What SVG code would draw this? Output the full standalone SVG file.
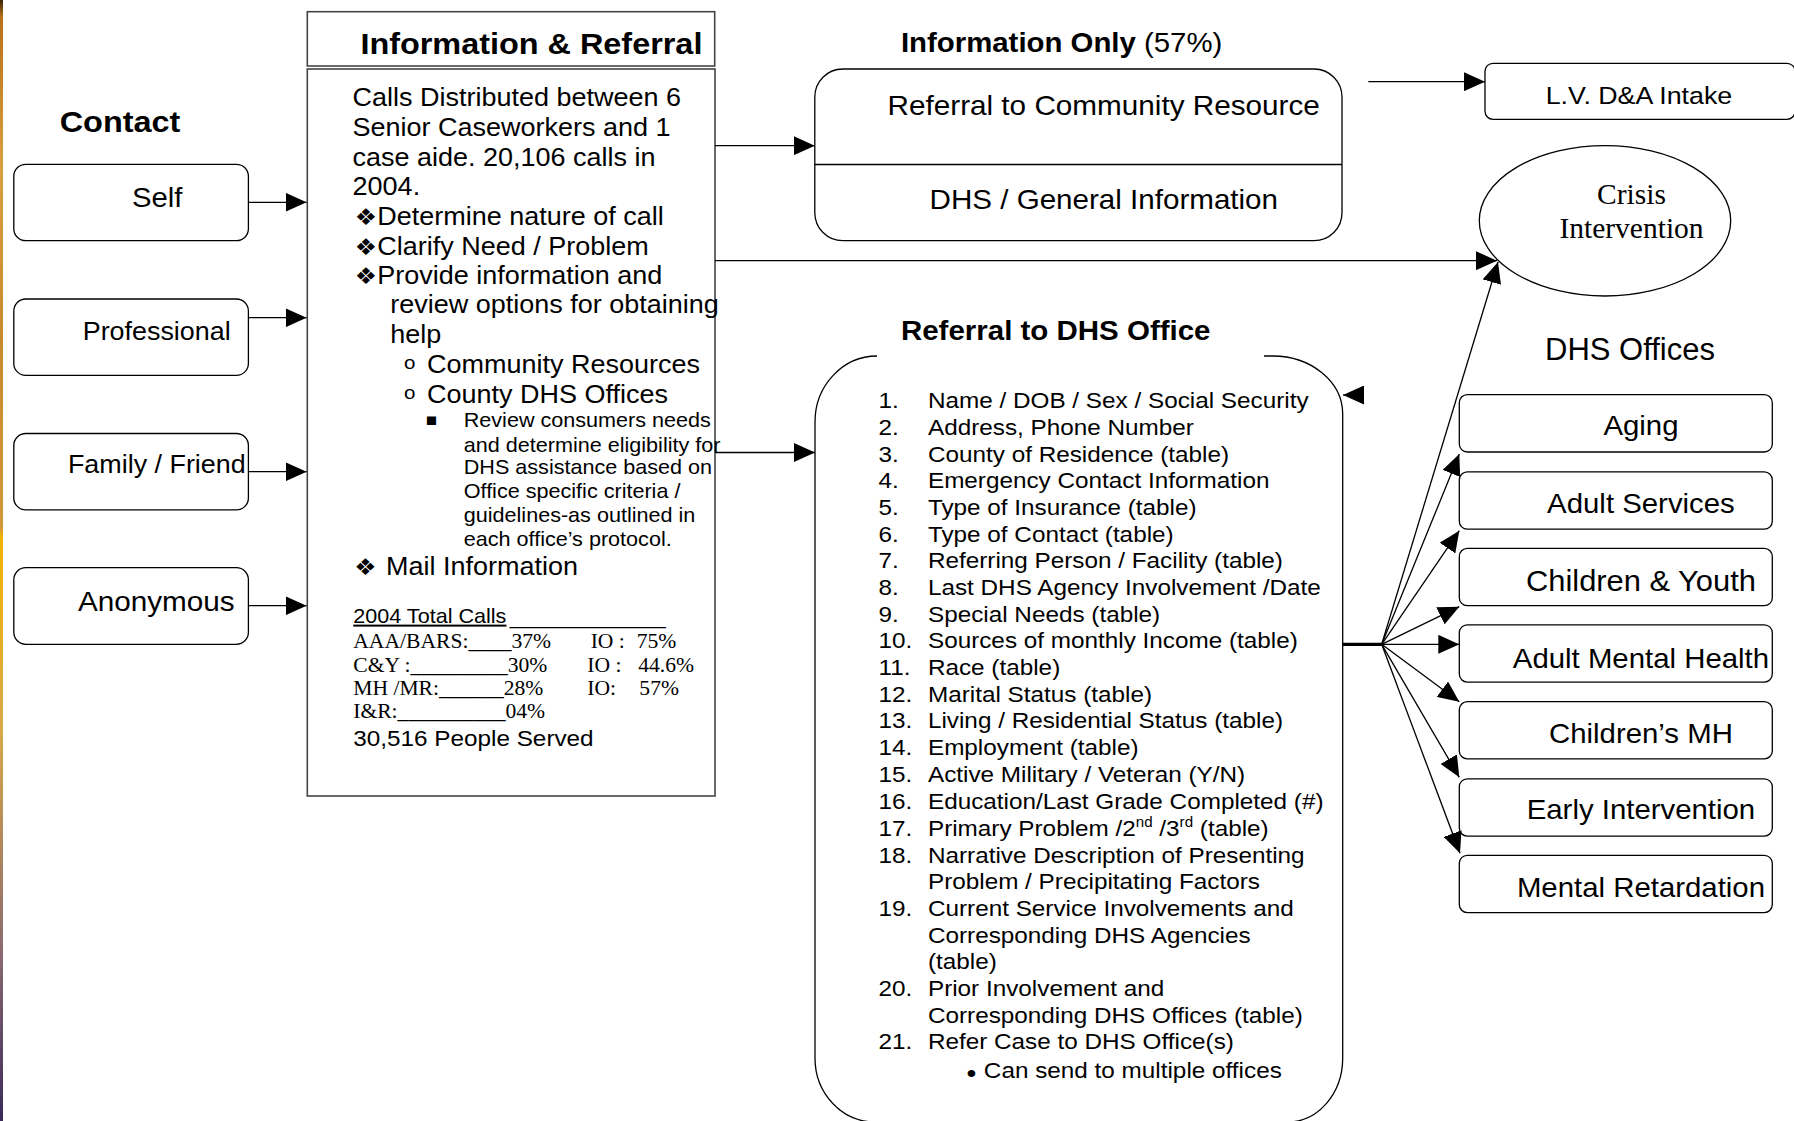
<svg xmlns="http://www.w3.org/2000/svg" width="1794" height="1121" viewBox="0 0 1794 1121">
<defs>
<style>
.box{fill:#fff;stroke:#000;stroke-width:1.3}
.ir{fill:#fff;stroke:#444;stroke-width:1.6}
.c{fill:none;stroke:#000;stroke-width:1.3}
.thick{fill:none;stroke:#000;stroke-width:3.2}
.t{font-family:"Liberation Sans",Arial,Helvetica,sans-serif;fill:#000;transform:scale(1.08,1)}
.tm{font-family:"Liberation Serif","Times New Roman",serif;fill:#000;transform:scale(1.08,1);font-size:20px}
.tr{font-family:"Liberation Serif","Times New Roman",serif;fill:#000}
.sym{font-family:"DejaVu Sans",sans-serif;fill:#000;transform:scale(1.08,1)}
.dia{font-size:23px}
.b{font-weight:bold}
.m{text-anchor:middle}
.body{font-size:25px}
.small{font-size:20px}
.list{font-size:22.5px}
.off{font-size:27.2px}
</style>
<marker id="ah" markerWidth="21" markerHeight="19" refX="21" refY="9.5" orient="auto" markerUnits="userSpaceOnUse">
<path d="M0,0 L21,9.5 L0,19 z" fill="#000"/>
</marker>
<linearGradient id="strip" x1="0" y1="0" x2="0" y2="1">
<stop offset="0" stop-color="#3b2508"/>
<stop offset="0.015" stop-color="#b87018"/>
<stop offset="0.15" stop-color="#d8a040"/>
<stop offset="0.3" stop-color="#c88a2a"/>
<stop offset="0.47" stop-color="#d09838"/>
<stop offset="0.48" stop-color="#f2b400"/>
<stop offset="0.65" stop-color="#d8a848"/>
<stop offset="0.85" stop-color="#8a6a70"/>
<stop offset="1" stop-color="#3a2a5a"/>
</linearGradient>
</defs>
<rect x="0" y="0" width="1794" height="1121" fill="#fff"/>
<rect x="0" y="0" width="3" height="1121" fill="url(#strip)"/>

<g id="contact-title">
<text class="t b" x="55.3" y="131.7" font-size="30">Contact</text>
</g>

<g id="self">
<rect class="box" x="13.8" y="164.3" width="234.6" height="76.4" rx="12"/>
<text class="t m" x="145.6" y="206.7" font-size="27.1">Self</text>
</g>
<g id="professional">
<rect class="box" x="13.8" y="299" width="234.6" height="76.4" rx="12"/>
<text class="t m" x="145.1" y="340" font-size="24.9">Professional</text>
</g>
<g id="family">
<rect class="box" x="13.8" y="433.5" width="234.6" height="76.4" rx="12"/>
<text class="t m" x="145.2" y="473.3" font-size="24.9">Family / Friend</text>
</g>
<g id="anonymous">
<rect class="box" x="13.8" y="567.7" width="234.6" height="76.6" rx="12"/>
<text class="t m" x="144.7" y="610.7" font-size="27.5">Anonymous</text>
</g>

<g id="info-referral">
<rect class="ir" x="307.3" y="11.7" width="407.4" height="54.3"/>
<text class="t b" x="333.7" y="54" font-size="30">Information &amp; Referral</text>
<rect class="ir" x="307.3" y="69" width="407.7" height="727"/>
<g class="body">
<text class="t" x="326.5" y="105.7">Calls Distributed between 6</text>
<text class="t" x="326.5" y="135.7">Senior Caseworkers and 1</text>
<text class="t" x="326.5" y="165.7">case aide. 20,106 calls in</text>
<text class="t" x="326.5" y="195">2004.</text>
<text class="sym dia" x="328.5" y="225.5">❖</text>
<text class="t" x="349.4" y="225">Determine nature of call</text>
<text class="sym dia" x="328.5" y="255.5">❖</text>
<text class="t" x="349.4" y="255">Clarify Need / Problem</text>
<text class="sym dia" x="328.5" y="284.5">❖</text>
<text class="t" x="349.4" y="284">Provide information and</text>
<text class="t" x="361.4" y="313.3">review options for obtaining</text>
<text class="t" x="361.4" y="342.7">help</text>
<text class="t" x="374.1" y="369.5" font-size="19">o</text>
<text class="t" x="395.4" y="372.7">Community Resources</text>
<text class="t" x="374.1" y="399.5" font-size="19">o</text>
<text class="t" x="395.4" y="402.7">County DHS Offices</text>
</g>
<g class="small">
<text class="sym" x="393.8" y="425.5" font-size="17">▪</text>
<text class="t" x="429.4" y="427.3">Review consumers needs</text>
<text class="t" x="429.4" y="451.7">and determine eligibility for</text>
<text class="t" x="429.4" y="474">DHS assistance based on</text>
<text class="t" x="429.4" y="497.7">Office specific criteria /</text>
<text class="t" x="429.4" y="521.7">guidelines-as outlined in</text>
<text class="t" x="429.4" y="545.7">each office’s protocol.</text>
</g>
<text class="sym dia" x="328" y="575.5">❖</text>
<text class="t body" x="357.4" y="575">Mail Information</text>
<text class="t small" x="327.1" y="622.7" text-decoration="underline">2004 Total Calls</text>
<text class="t small" x="472" y="624">_____________</text>
<text class="tm" x="327.1" y="648.3">AAA/BARS:____37%</text>
<text class="tm" x="546.9" y="648.3">IO :</text>
<text class="tm" x="589.5" y="648.3">75%</text>
<text class="tm" x="327.1" y="671.7">C&amp;Y :_________30%</text>
<text class="tm" x="543.8" y="671.7">IO :</text>
<text class="tm" x="591" y="671.7">44.6%</text>
<text class="tm" x="327.1" y="695">MH /MR:______28%</text>
<text class="tm" x="543.8" y="695">IO:</text>
<text class="tm" x="592" y="695">57%</text>
<text class="tm" x="327.1" y="718.3">I&amp;R:__________04%</text>
<text class="t" x="327.1" y="746" font-size="22.5">30,516 People Served</text>
</g>

<g id="information-only">
<text class="t b" x="834.2" y="52.3" font-size="27.2">Information Only <tspan font-weight="normal">(57%)</tspan></text>
<rect class="box" x="814.8" y="69" width="527.2" height="171.7" rx="28"/>
<line class="c" x1="814.8" y1="164.5" x2="1342" y2="164.5"/>
<text class="t" x="821.8" y="115" font-size="27.5">Referral to Community Resource</text>
<text class="t" x="860.7" y="209" font-size="27.4">DHS / General Information</text>
</g>

<g id="lv-intake">
<rect class="box" x="1485" y="63.3" width="310" height="56" rx="8"/>
<text class="t" x="1431.2" y="104" font-size="24.8">L.V. D&amp;A Intake</text>
</g>

<g id="crisis">
<ellipse class="box" cx="1605" cy="220.8" rx="125.7" ry="75.2"/>
<text class="tr m" x="1631.5" y="204" font-size="29.5">Crisis</text>
<text class="tr m" x="1631.5" y="238" font-size="29.5">Intervention</text>
</g>

<g id="referral-dhs">
<text class="t b" x="834.2" y="340" font-size="27.3">Referral to DHS Office</text>
<path class="c" d="M877 356 A62 66 0 0 0 815 422 V1058 A60 64 0 0 0 875 1122 H1288 A55 64 0 0 0 1342.7 1058 V414 A70 58 0 0 0 1272 356 H1264"/>
<g class="list">
<text class="t" x="813.5" y="408.3">1.</text><text class="t" x="859.2" y="408.3">Name / DOB / Sex / Social Security</text>
<text class="t" x="813.5" y="435">2.</text><text class="t" x="859.2" y="435">Address, Phone Number</text>
<text class="t" x="813.5" y="461.7">3.</text><text class="t" x="859.2" y="461.7">County of Residence (table)</text>
<text class="t" x="813.5" y="488.3">4.</text><text class="t" x="859.2" y="488.3">Emergency Contact Information</text>
<text class="t" x="813.5" y="515">5.</text><text class="t" x="859.2" y="515">Type of Insurance (table)</text>
<text class="t" x="813.5" y="541.7">6.</text><text class="t" x="859.2" y="541.7">Type of Contact (table)</text>
<text class="t" x="813.5" y="568.3">7.</text><text class="t" x="859.2" y="568.3">Referring Person / Facility (table)</text>
<text class="t" x="813.5" y="595">8.</text><text class="t" x="859.2" y="595">Last DHS Agency Involvement /Date</text>
<text class="t" x="813.5" y="621.7">9.</text><text class="t" x="859.2" y="621.7">Special Needs (table)</text>
<text class="t" x="813.5" y="648.3">10.</text><text class="t" x="859.2" y="648.3">Sources of monthly Income (table)</text>
<text class="t" x="813.5" y="675">11.</text><text class="t" x="859.2" y="675">Race (table)</text>
<text class="t" x="813.5" y="701.7">12.</text><text class="t" x="859.2" y="701.7">Marital Status (table)</text>
<text class="t" x="813.5" y="728.3">13.</text><text class="t" x="859.2" y="728.3">Living / Residential Status (table)</text>
<text class="t" x="813.5" y="755">14.</text><text class="t" x="859.2" y="755">Employment (table)</text>
<text class="t" x="813.5" y="781.7">15.</text><text class="t" x="859.2" y="781.7">Active Military / Veteran (Y/N)</text>
<text class="t" x="813.5" y="809">16.</text><text class="t" x="859.2" y="809">Education/Last Grade Completed (#)</text>
<text class="t" x="813.5" y="836">17.</text><text class="t" x="859.2" y="836" xml:space="preserve">Primary Problem /2<tspan font-size="14" dy="-9">nd</tspan><tspan dy="9"> /3</tspan><tspan font-size="14" dy="-9">rd</tspan><tspan dy="9"> (table)</tspan></text>
<text class="t" x="813.5" y="862.7">18.</text><text class="t" x="859.2" y="862.7">Narrative Description of Presenting</text>
<text class="t" x="859.2" y="889.3">Problem / Precipitating Factors</text>
<text class="t" x="813.5" y="916">19.</text><text class="t" x="859.2" y="916">Current Service Involvements and</text>
<text class="t" x="859.2" y="942.7">Corresponding DHS Agencies</text>
<text class="t" x="859.2" y="969.3">(table)</text>
<text class="t" x="813.5" y="996">20.</text><text class="t" x="859.2" y="996">Prior Involvement and</text>
<text class="t" x="859.2" y="1022.7">Corresponding DHS Offices (table)</text>
<text class="t" x="813.5" y="1049.3">21.</text><text class="t" x="859.2" y="1049.3">Refer Case to DHS Office(s)</text>
<text class="t" x="895" y="1082" font-size="26">•</text><text class="t" x="911" y="1078">Can send to multiple offices</text>
</g>
</g>

<g id="dhs-offices-title">
<text class="t" x="1545" y="360" font-size="31" style="transform:none">DHS Offices</text>
</g>
<g id="aging"><rect class="box" x="1459.3" y="394.7" width="313" height="57.3" rx="8"/><text class="t m off" x="1519.4" y="435.4">Aging</text></g>
<g id="adult-services"><rect class="box" x="1459.3" y="471.9" width="313" height="57.3" rx="8"/><text class="t m off" x="1519.4" y="513.3">Adult Services</text></g>
<g id="children-youth"><rect class="box" x="1459.3" y="548.4" width="313" height="57.3" rx="8"/><text class="t m" x="1519.4" y="591.2" font-size="28.6">Children &amp; Youth</text></g>
<g id="adult-mh"><rect class="box" x="1459.3" y="624.8" width="313" height="57.3" rx="8"/><text class="t m off" x="1519.4" y="667.6">Adult Mental Health</text></g>
<g id="childrens-mh"><rect class="box" x="1459.3" y="701.6" width="313" height="57.3" rx="8"/><text class="t m off" x="1519.4" y="743">Children’s MH</text></g>
<g id="early-intervention"><rect class="box" x="1459.3" y="778.8" width="313" height="57.3" rx="8"/><text class="t m off" x="1519.4" y="819.5">Early Intervention</text></g>
<g id="mental-retardation"><rect class="box" x="1459.3" y="855.3" width="313" height="57.3" rx="8"/><text class="t m off" x="1519.4" y="897.4">Mental Retardation</text></g>

<g id="connectors">
<path class="c" d="M248.4 202.3 H306.6" marker-end="url(#ah)"/>
<path class="c" d="M248.4 317.7 H306.6" marker-end="url(#ah)"/>
<path class="c" d="M248.4 471.7 H306.6" marker-end="url(#ah)"/>
<path class="c" d="M248.4 605.7 H306.6" marker-end="url(#ah)"/>
<path class="c" d="M715 145.7 H814.8" marker-end="url(#ah)"/>
<path class="c" d="M715 260.7 H1497" marker-end="url(#ah)"/>
<path class="c" d="M715 452.5 H815" marker-end="url(#ah)"/>
<path class="c" d="M1368.3 81.7 H1485" marker-end="url(#ah)"/>
<path class="c" d="M1364 395 H1343" marker-end="url(#ah)"/>
<path class="thick" d="M1342.7 644.3 H1381.7"/>
<path class="c" d="M1381.7 644.3 L1498 262" marker-end="url(#ah)"/>
<path class="c" d="M1381.7 644.3 L1459.3 454" marker-end="url(#ah)"/>
<path class="c" d="M1381.7 644.3 L1459.3 530.7" marker-end="url(#ah)"/>
<path class="c" d="M1381.7 644.3 L1459.3 606.7" marker-end="url(#ah)"/>
<path class="c" d="M1381.7 644.3 L1459.3 644.3" marker-end="url(#ah)"/>
<path class="c" d="M1381.7 644.3 L1459.3 701.7" marker-end="url(#ah)"/>
<path class="c" d="M1381.7 644.3 L1459.3 777.3" marker-end="url(#ah)"/>
<path class="c" d="M1381.7 644.3 L1460 853.3" marker-end="url(#ah)"/>
</g>
</svg>
